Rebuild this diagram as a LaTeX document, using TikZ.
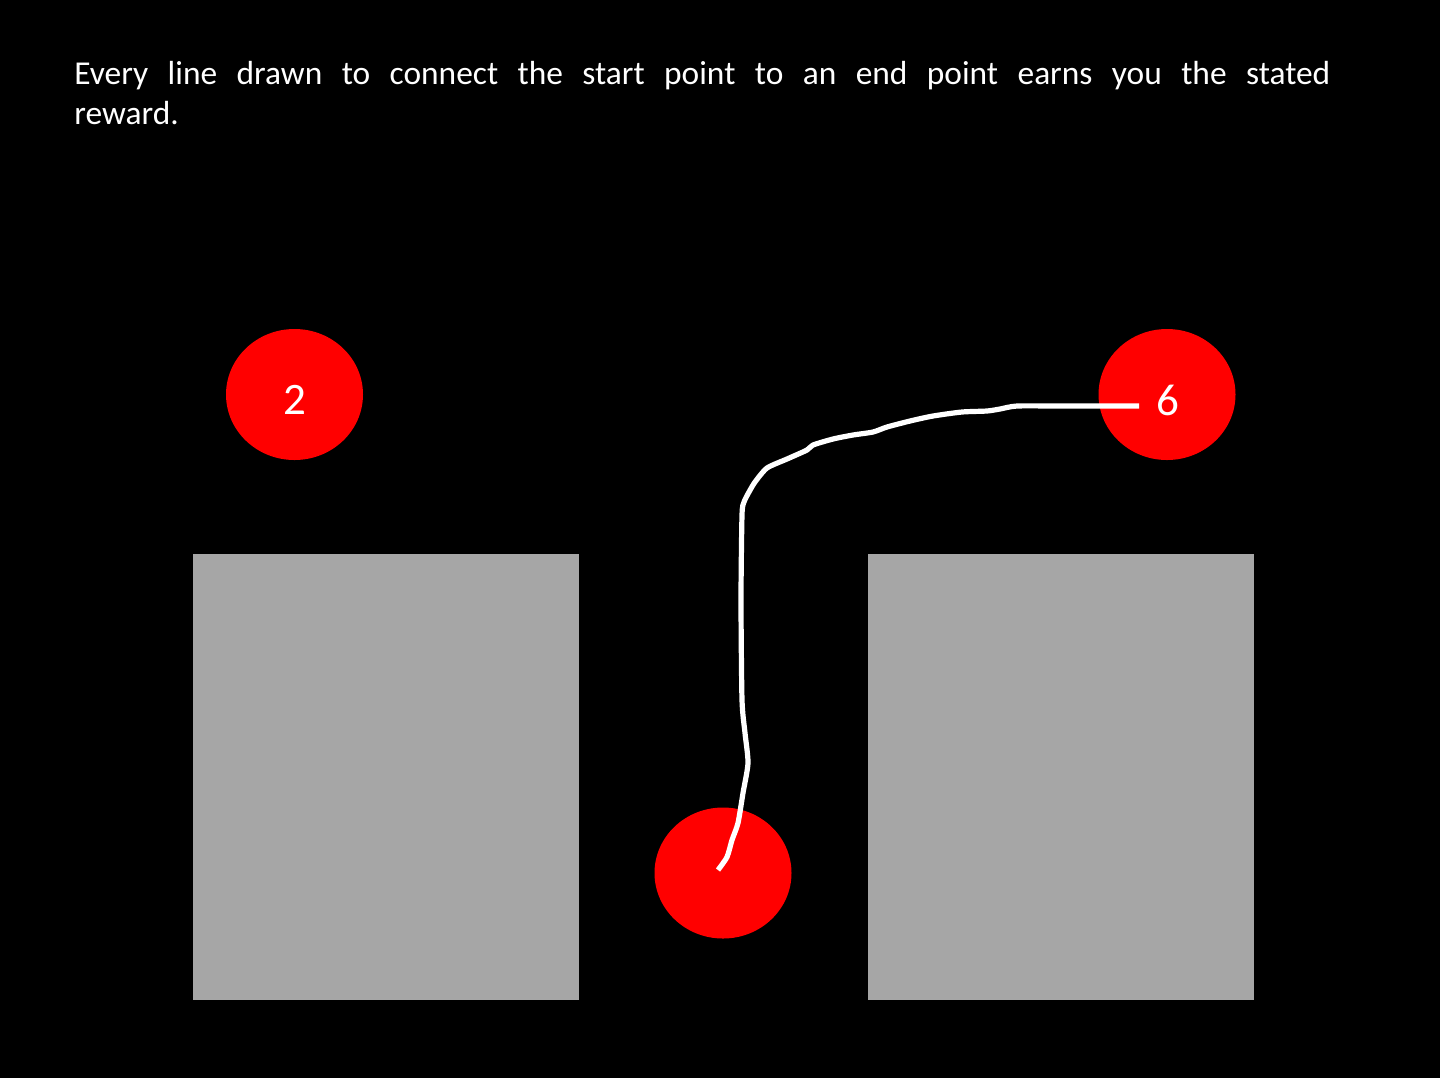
\documentclass[tikz,border=0pt]{standalone}
\usepackage{fontspec}
\setmainfont{Carlito}
\usetikzlibrary{shapes.geometric}
\definecolor{pptgray}{HTML}{A6A6A6}
\definecolor{pptred}{HTML}{FF0000}
\tikzset{
  target/.style={ellipse, fill=pptred, draw=none, inner sep=0pt, minimum width=68.5pt, minimum height=65.5pt},
  block/.style={fill=pptgray, draw=none},
  reward/.style={text=white, font=\fontsize{22.5}{27}\selectfont, inner sep=0pt},
  trace/.style={white, line width=2.6pt, line join=round, line cap=butt},
}
\begin{document}
\begin{tikzpicture}[x=0.5pt,y=-0.5pt]
\fill[black] (0,0) rectangle (1440,1078);
\useasboundingbox (0,0) rectangle (1440,1078);

\node[anchor=base west, inner sep=0pt, text=white, font=\fontsize{16.7}{20}\selectfont] (instr) at (74,84)
  {\parbox[t]{628pt}{\fontsize{16.7}{20}\selectfont Every line drawn to connect the start point to an end point earns you the stated\linebreak reward.}};

\fill[block] (193,554) rectangle (579,1000);
\fill[block] (868,554) rectangle (1254,1000);

\node[target] (left) at (294.5,394.5) {};
\node[target] (right) at (1167,394.5) {};
\node[target] (start) at (723,873) {};

\node[reward] (lbl2) at (294.5,400) {2};
\node[reward] (lbl6) at (1168,400) {6};

\coordinate (pstart) at (718,870);
\coordinate (pend) at (1139,406);

\draw[trace] plot[smooth, tension=0.4] coordinates {
  (pstart) (727,857) (732,840) (738,823) (743,793) (748,763) (745,733) (742,700)
  (741,600) (742,515) (744,502) (749,492) (755,482) (767,468) (787,459) (807,450) (813,445)
  (833,439) (853,435) (873,432) (887,427) (910,421) (933,416) (962,412) (987,411) (1000,409) (1017,406)
  (1060,406) (pend)};
\end{tikzpicture}
\end{document}
